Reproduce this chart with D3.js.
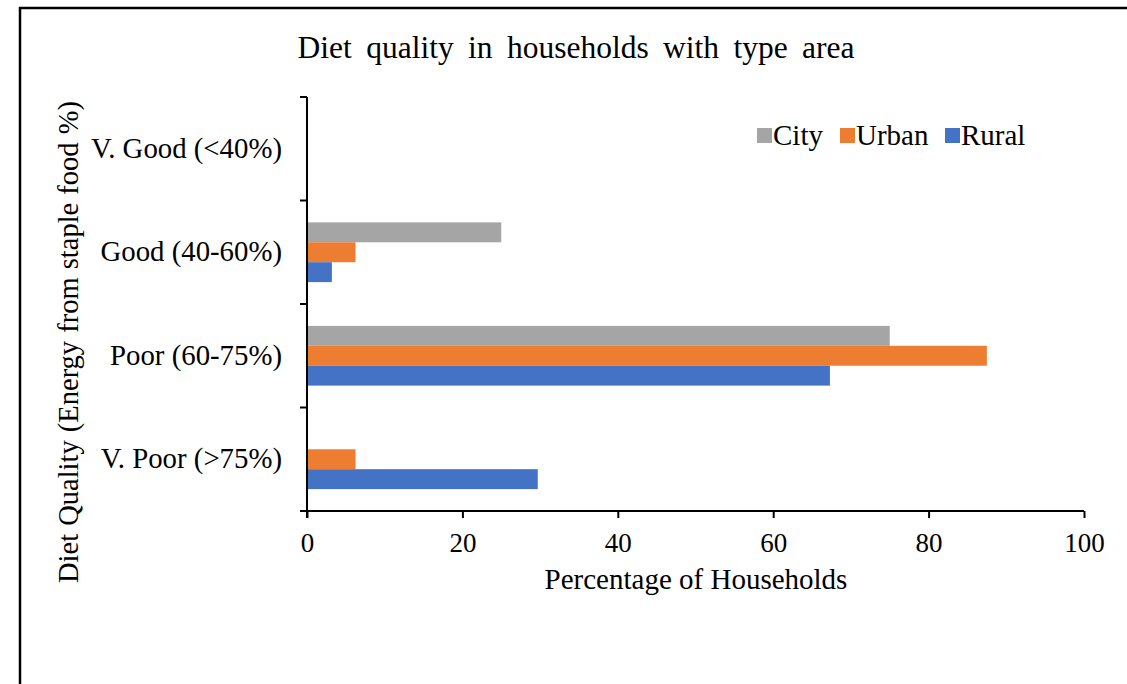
<!DOCTYPE html>
<html>
<head>
<meta charset="utf-8">
<script src="https://cdn.jsdelivr.net/npm/d3@7"></script>
<style>
  html, body { margin: 0; padding: 0; background: #fff; }
  svg { display: block; font-family: "Liberation Serif", "Times New Roman", serif; }
</style>
</head>
<body>
<svg id="chart" width="1127" height="684"></svg>
<script>
// Diet quality categories, top to bottom
const categories = ["V. Good (<40%)", "Good (40-60%)", "Poor (60-75%)", "V. Poor (>75%)"];
// Area types, drawn top to bottom within each category
const seriesNames = ["City", "Urban", "Rural"];
// Percentage of households per category
const cityValues  = [0, 25, 75, 0];
const urbanValues = [0, 6.25, 87.5, 6.25];
const ruralValues = [0, 3.2, 67.3, 29.7];
const xTicks = [0, 20, 40, 60, 80, 100];
const seriesColors = ["#A5A5A5", "#ED7D31", "#4472C4"];

const seriesValues = [cityValues, urbanValues, ruralValues];
const rows = [];
categories.forEach((c, i) => {
  seriesNames.forEach((s, j) => rows.push({ category: c, series: s, value: seriesValues[j][i] }));
});

const svg = d3.select("#chart");

// outer frame
svg.append("path")
  .attr("d", "M20,684 L20,8 L1127,8")
  .attr("fill", "none").attr("stroke", "#000").attr("stroke-width", 2.5);

const plot = { left: 307, right: 1084, top: 97, bottom: 511 };

const x = d3.scaleLinear().domain([0, 100]).range([plot.left, plot.right]);
const y = d3.scaleBand().domain(categories).range([plot.top, plot.bottom]);
const inner = d3.scaleBand().domain(seriesNames)
  .range([0, y.bandwidth()]).paddingOuter(1.1).paddingInner(0);

// bars
svg.append("g").selectAll("rect")
  .data(rows.filter(d => d.value > 0))
  .join("rect")
  .attr("x", x(0))
  .attr("y", d => y(d.category) + inner(d.series))
  .attr("width", d => x(d.value) - x(0))
  .attr("height", inner.bandwidth())
  .attr("fill", d => seriesColors[seriesNames.indexOf(d.series)]);

// y axis: line with boundary ticks
const yAxis = svg.append("g");
yAxis.append("line")
  .attr("x1", x(0)).attr("x2", x(0))
  .attr("y1", plot.top).attr("y2", plot.bottom + 7)
  .attr("stroke", "#000").attr("stroke-width", 2);
const boundaries = categories.map(c => y(c)).concat([plot.bottom]);
yAxis.selectAll("line.tick")
  .data(boundaries)
  .join("line").attr("class", "tick")
  .attr("x1", x(0) - 7).attr("x2", x(0))
  .attr("y1", d => d).attr("y2", d => d)
  .attr("stroke", "#000").attr("stroke-width", 2);
yAxis.selectAll("text")
  .data(categories)
  .join("text")
  .attr("x", 282)
  .attr("y", d => y(d) + y.bandwidth() / 2 + 9)
  .attr("text-anchor", "end")
  .attr("font-size", 28.8)
  .attr("fill", "#000")
  .text(d => d);

// x axis
const xAxisG = svg.append("g")
  .attr("transform", `translate(0,${plot.bottom})`)
  .call(d3.axisBottom(x).tickValues(xTicks).tickSize(7).tickSizeOuter(0).tickFormat(d3.format("d")));
xAxisG.select(".domain").remove();
xAxisG.append("line")
  .attr("x1", x(0) - 7).attr("x2", x(100))
  .attr("stroke", "#000").attr("stroke-width", 2);
xAxisG.selectAll(".tick line").attr("stroke", "#000").attr("stroke-width", 2);
xAxisG.selectAll(".tick text")
  .attr("font-family", "Liberation Serif, Times New Roman, serif")
  .attr("font-size", 27).attr("fill", "#000")
  .attr("y", 41).attr("dy", null);

// titles
svg.append("text")
  .attr("x", 576).attr("y", 58)
  .attr("text-anchor", "middle").attr("font-size", 31.5).attr("fill", "#000")
  .attr("word-spacing", 6.5)
  .text("Diet quality in households with type area");

svg.append("text")
  .attr("x", 696).attr("y", 589)
  .attr("text-anchor", "middle").attr("font-size", 29).attr("fill", "#000")
  .text("Percentage of Households");

svg.append("text")
  .attr("transform", "translate(78,342) rotate(-90)")
  .attr("text-anchor", "middle").attr("font-size", 28.5).attr("fill", "#000")
  .attr("word-spacing", 1)
  .text("Diet Quality (Energy from staple food %)");

// legend
const legendX = [757, 840, 945];
const legend = svg.append("g").selectAll("g")
  .data(seriesNames)
  .join("g")
  .attr("transform", (d, i) => `translate(${legendX[i]},128)`);
legend.append("rect")
  .attr("x", 0).attr("y", 0).attr("width", 15).attr("height", 15)
  .attr("fill", (d, i) => seriesColors[i]);
legend.append("text")
  .attr("x", 16).attr("y", 17)
  .attr("font-size", 29).attr("fill", "#000")
  .text(d => d);
</script>
</body>
</html>
